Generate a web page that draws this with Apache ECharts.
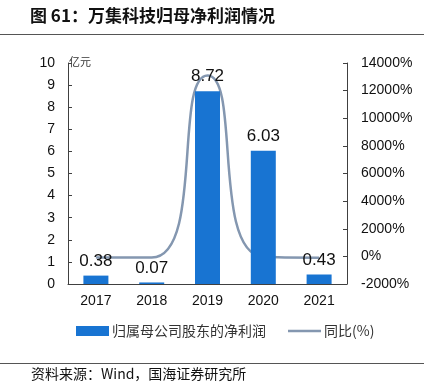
<!DOCTYPE html>
<html>
<head>
<meta charset="utf-8">
<script src="https://cdn.jsdelivr.net/npm/echarts@6/dist/echarts.min.js"></script>
<style>
  html, body { margin: 0; padding: 0; background: #fff; }
  #chart { width: 424px; height: 392px; }
</style>
</head>
<body>
<div id="chart"></div>
<script>
// 数据
const years = ['2017', '2018', '2019', '2020', '2021']
const netProfit = [0.38, 0.07, 8.72, 6.03, 0.43]
const yoy = [-89, -82, 13100, -31, -93]
const leftTicks = [0, 10, 1]
const rightTicks = [-2000, 14000, 2000]

const font = '"Liberation Sans", Arial, "Noto Sans CJK SC", sans-serif'
const cjk = '"Noto Sans CJK SC", sans-serif'

// 图例里的细线（上下两个极小点撑开高度）
const thinLineIcon = 'path://M0,0L0.01,0L0.01,0.01ZM0,3.8L33,3.8L33,6.2L0,6.2ZM0,9.99L0.01,9.99L0.01,10Z'

const chart = echarts.init(document.getElementById('chart'))

const option = {
  animation: false,
  textStyle: { fontFamily: font },
  grid: { left: 68, right: 77, top: 63, bottom: 108 },
  graphic: [
    {
      type: 'text', left: 30, top: 7,
      style: { text: '图 61：万集科技归母净利润情况', font: 'bold 17px ' + cjk, fill: '#111' }
    },
    { type: 'line', shape: { x1: 0, y1: 34.5, x2: 424, y2: 34.5 }, style: { stroke: '#555', lineWidth: 1 } },
    {
      type: 'text', left: 69, top: 56,
      style: { text: '亿元', font: '11px ' + cjk, fill: '#333' }
    },
    { type: 'line', shape: { x1: 0, y1: 363.5, x2: 424, y2: 363.5 }, style: { stroke: '#555', lineWidth: 1 } },
    {
      type: 'text', left: 31, top: 367,
      style: { text: '资料来源：Wind，国海证券研究所', font: '14px ' + cjk, fill: '#111' }
    }
  ],
  legend: {
    left: 76,
    top: 324,
    padding: 0,
    itemWidth: 33,
    itemHeight: 10,
    itemGap: 22,
    textStyle: { fontSize: 14, color: '#333', fontFamily: cjk, padding: [0, 0, 0, -2] },
    data: [
      { name: '归属母公司股东的净利润', icon: 'rect' },
      { name: '同比(%)', icon: thinLineIcon }
    ]
  },
  xAxis: {
    type: 'category',
    data: years,
    boundaryGap: true,
    axisLine: { lineStyle: { color: '#404040', width: 1 } },
    axisTick: { inside: true, length: 4, lineStyle: { color: '#404040' } },
    axisLabel: { color: '#111', fontSize: 14, margin: 10 }
  },
  yAxis: [
    {
      type: 'value',
      min: leftTicks[0], max: leftTicks[1], interval: leftTicks[2],
      axisLine: { show: true, lineStyle: { color: '#404040' } },
      axisTick: { show: true, inside: true, length: 4, lineStyle: { color: '#404040' } },
      axisLabel: { color: '#111', fontSize: 14, margin: 13 },
      splitLine: { show: false }
    },
    {
      type: 'value',
      min: rightTicks[0], max: rightTicks[1], interval: rightTicks[2],
      axisLine: { show: true, lineStyle: { color: '#404040' } },
      axisTick: { show: true, inside: true, length: 4, lineStyle: { color: '#404040' } },
      axisLabel: { color: '#111', fontSize: 14, margin: 14, formatter: v => v + '%' },
      splitLine: { show: false }
    }
  ],
  series: [
    {
      name: '归属母公司股东的净利润',
      type: 'bar',
      data: netProfit,
      barWidth: 25,
      itemStyle: { color: '#1874D2' },
      label: {
        show: true, position: 'top', distance: 6,
        color: '#111', fontSize: 17,
        formatter: p => p.value.toFixed(2)
      }
    },
    {
      name: '同比(%)',
      type: 'line',
      yAxisIndex: 1,
      data: yoy,
      smooth: 0.6,
      symbol: 'none',
      lineStyle: { color: '#8497B0', width: 2.5 },
      itemStyle: { color: '#8497B0' },
      z: 1
    }
  ]
}

chart.setOption(option)
</script>
</body>
</html>
